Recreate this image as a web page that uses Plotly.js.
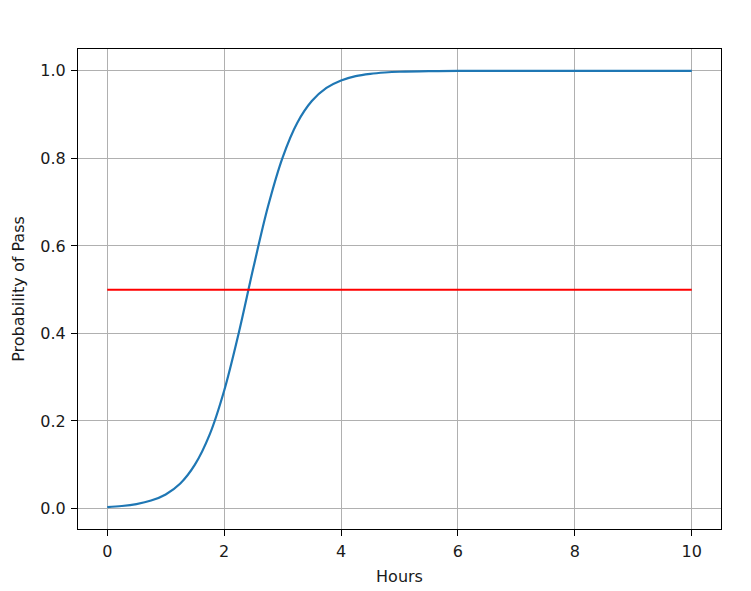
<!DOCTYPE html>
<html>
<head>
<meta charset="utf-8">
<script src="https://cdn.plot.ly/plotly-3.0.1.min.js"></script>
<style>html,body{margin:0;padding:0;background:#fff;}#chart{width:751px;height:591px;}</style>
</head>
<body>
<div id="chart"></div>
<script>
// Hours studied (x) and estimated probability of passing
const hours = [0, 0.25, 0.5, 0.75, 1.0, 1.25, 1.5, 1.75, 2.0, 2.25, 2.5, 2.75, 3.0, 3.25, 3.5, 3.75, 4.0, 4.25, 4.5, 4.75, 5.0, 5.5, 6.0, 7.0, 8.0, 9.0, 10.0];
const probPass = [0.003, 0.0055, 0.0100, 0.018, 0.032, 0.057, 0.100, 0.168, 0.269, 0.401, 0.550, 0.690, 0.802, 0.881, 0.931, 0.961, 0.978, 0.988, 0.9933, 0.9963, 0.998, 0.9994, 0.9998, 1.0, 1.0, 1.0, 1.0];
// Threshold line
const thresholdX = [0, 10];
const thresholdY = [0.5, 0.5];
const xTicks = [0, 2, 4, 6, 8, 10];
const yTicks = [0.0, 0.2, 0.4, 0.6, 0.8, 1.0];
const yTickLabels = ["0.0", "0.2", "0.4", "0.6", "0.8", "1.0"];

const font = {family: "DejaVu Sans", size: 16, color: "#1a1a1a"};
const axisCommon = {
  showline: true, mirror: true, linecolor: "#000", linewidth: 1,
  ticks: "outside", ticklen: 6, tickwidth: 1, tickcolor: "#000",
  showgrid: true, gridcolor: "#b0b0b0", gridwidth: 1,
  zeroline: false, tickfont: font
};

const traces = [
  {x: hours, y: probPass, type: "scatter", mode: "lines", line: {color: "#1f77b4", width: 2.2, shape: "spline"}, hoverinfo: "skip"},
  {x: thresholdX, y: thresholdY, type: "scatter", mode: "lines", line: {color: "#ff0000", width: 2}, hoverinfo: "skip"}
];

const layout = {
  width: 751, height: 591,
  margin: {l: 78, r: 30, t: 49, b: 62},
  paper_bgcolor: "#fff", plot_bgcolor: "#fff",
  showlegend: false,
  font: font,
  xaxis: Object.assign({}, axisCommon, {
    range: [-0.5, 10.5], tickvals: xTicks,
    ticklabelstandoff: 2,
    title: {text: "Hours", font: font, standoff: 10}
  }),
  yaxis: Object.assign({}, axisCommon, {
    range: [-0.047, 1.05], tickvals: yTicks, ticktext: yTickLabels,
    ticklabelstandoff: 2,
    title: {text: "Probability of Pass", font: font, standoff: 11}
  })
};

Plotly.newPlot("chart", traces, layout, {displayModeBar: false, staticPlot: true});
</script>
</body>
</html>
